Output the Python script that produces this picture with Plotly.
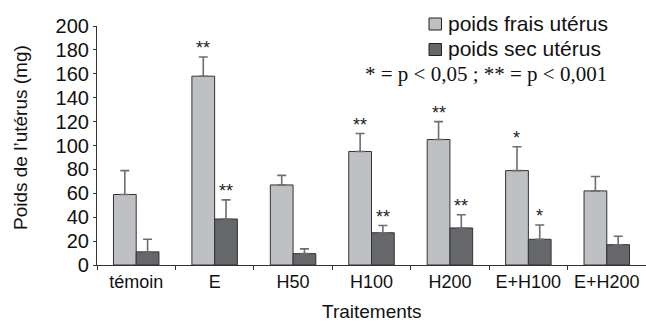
import plotly.graph_objects as go

categories = ["témoin", "E", "H50", "H100", "H200", "E+H100", "E+H200"]
frais = [59, 158, 67, 95, 105, 79, 62]
frais_err = [20, 16, 8, 15, 15, 20, 12]
sec = [11, 38.5, 9.5, 27, 31, 21.5, 17]
sec_err = [10.5, 16, 4, 6, 11, 12, 7]
sig_frais = ["", "**", "", "**", "**", "*", ""]
sig_sec = ["", "**", "", "**", "**", "*", ""]
series_names = ["poids frais utérus", "poids sec utérus"]
series_colors = ["#bfc0c3", "#66676a"]

W, H = 646, 324
ML, MR, MT, MB = 97, 0, 10, 59
AXIS_TOP = 26
PW, PH = W - ML - MR, H - MT - MB
BASE = H - MB
BARGAP = 0.42
FONT = "Liberation Sans, Arial, Helvetica, sans-serif"
EDGE = "#333333"


def py(px):
    return (BASE - px) / PH


def pxx(px):
    return (px - ML) / PW


fig = go.Figure()
for name, vals, errs, col in ((series_names[0], frais, frais_err, series_colors[0]),
                              (series_names[1], sec, sec_err, series_colors[1])):
    fig.add_trace(go.Bar(
        name=name, x=categories, y=vals, showlegend=False,
        marker=dict(color=col, line=dict(color=EDGE, width=1)),
        error_y=dict(type="data", array=errs, arrayminus=[0]*len(vals), symmetric=False,
                     color="#6e6e6e", thickness=1.6, width=4.5),
    ))

half = (1 - BARGAP) / 4
annotations = []
for i in range(len(categories)):
    for val, err, sig, off in ((frais[i], frais_err[i], sig_frais[i], -half),
                               (sec[i], sec_err[i], sig_sec[i], half)):
        if sig:
            annotations.append(dict(x=i + off, y=val + err, xref="x", yref="y", text=sig,
                                    showarrow=False, yanchor="bottom", yshift=-3,
                                    font=dict(family=FONT, size=18, color="#222")))

# legend (drawn as keys + real text)
shapes = []
for k, (name, col) in enumerate(zip(series_names, series_colors)):
    cy = 24 + k * 25.5
    shapes.append(dict(type="rect", xref="paper", yref="paper",
                       x0=pxx(429), x1=pxx(441.5), y0=py(cy + 6), y1=py(cy - 6),
                       fillcolor=col, line=dict(color="#222", width=1)))
    annotations.append(dict(text=name, xref="paper", yref="paper",
                            x=pxx(446), y=py(cy - 1), showarrow=False,
                            xanchor="left", yanchor="middle",
                            font=dict(family=FONT, size=21, color="#111")))

annotations.append(dict(text="* = p < 0,05 ; ** = p < 0,001", xref="paper", yref="paper",
                        x=pxx(486), y=py(74), showarrow=False,
                        xanchor="center", yanchor="middle",
                        font=dict(family="Liberation Serif, Times New Roman, serif", size=21, color="#111")))
annotations.append(dict(text="Traitements", xref="paper", yref="paper",
                        x=pxx(372), y=py(311), showarrow=False,
                        xanchor="center", yanchor="middle",
                        font=dict(family=FONT, size=19, color="#111")))
annotations.append(dict(text="Poids de l’utérus (mg)", xref="paper", yref="paper",
                        x=pxx(20), y=py(138), showarrow=False,
                        textangle=-90, xanchor="center", yanchor="middle",
                        font=dict(family=FONT, size=19, color="#111")))

fig.update_layout(
    width=W, height=H,
    margin=dict(l=ML, r=MR, t=MT, b=MB),
    paper_bgcolor="white", plot_bgcolor="white",
    barmode="group", bargap=BARGAP, bargroupgap=0,
    font=dict(family=FONT, color="#111"),
    showlegend=False,
    annotations=annotations,
    shapes=shapes,
)
fig.update_xaxes(showline=True, linecolor="#333", linewidth=1.2, ticks="outside",
                 tickson="boundaries", ticklen=4, tickcolor="#333",
                 tickfont=dict(family=FONT, size=18, color="#111"), showgrid=False,
                 tickangle=0, range=[-0.5, len(categories) - 0.5])
fig.update_yaxes(showline=True, linecolor="#333", linewidth=1.2, ticks="outside",
                 ticklen=3, tickcolor="#333", range=[0, 200], dtick=20,
                 domain=[0, (BASE - AXIS_TOP) / PH],
                 tickfont=dict(family=FONT, size=20, color="#111"), showgrid=False,
                 zeroline=False)

fig.write_html("out.html", config={"displayModeBar": False},
               post_script="document.body.style.margin='0';")
